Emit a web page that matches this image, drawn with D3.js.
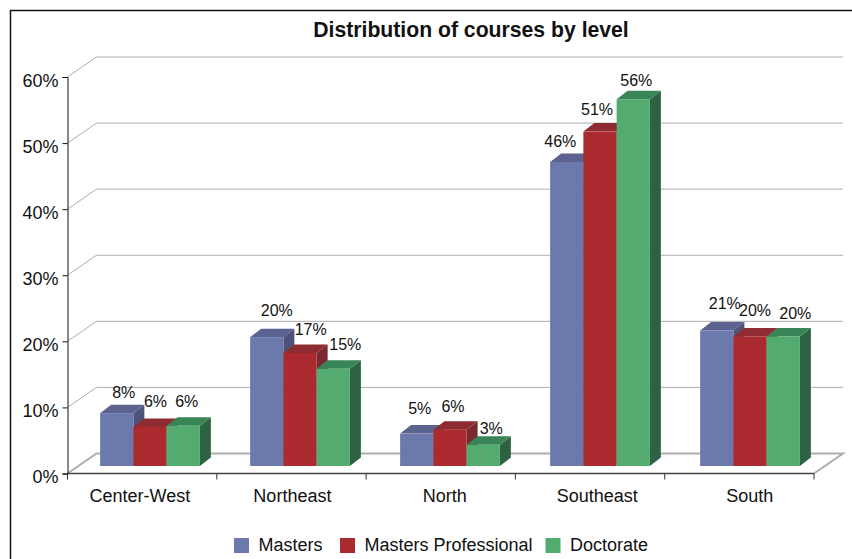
<!DOCTYPE html>
<html>
<head>
<meta charset="utf-8">
<script src="https://cdn.jsdelivr.net/npm/d3@7"></script>
<style>
  html, body { margin: 0; padding: 0; background: #fff; }
  svg { display: block; }
  text { font-family: "Liberation Sans", Arial, sans-serif; fill: #111; }
</style>
</head>
<body>
<svg id="chart" width="852" height="559"></svg>
<script>
//values
var categories = ["Center-West", "Northeast", "North", "Southeast", "South"];
var seriesNames = ["Masters", "Masters Professional", "Doctorate"];
var masters = [8.0, 19.5, 4.9, 46.0, 20.5];
var mastersProfessional = [5.9, 17.1, 5.5, 50.6, 19.6];
var doctorate = [6.1, 14.7, 3.2, 55.5, 19.6];
var mastersLabels = ["8%", "20%", "5%", "46%", "21%"];
var mastersProfessionalLabels = ["6%", "17%", "6%", "51%", "20%"];
var doctorateLabels = ["6%", "15%", "3%", "56%", "20%"];
var yTicks = [0, 10, 20, 30, 40, 50, 60];

//colors for each series: front, top and side of the bar
var fronts = ["#6c79ad", "#ab2a30", "#53ab6f"];
var tops = ["#5c628f", "#8e2c32", "#3a8558"];
var sides = ["#4c5278", "#7a2a2e", "#2d6342"];

//hand nudges for the data labels, the original places them unevenly
var labelNudgeX = [[7, 10, 3, -6.5, 8], [5.5, 10.7, 3, -3, 5], [3.5, 12, 8, 3, 12]];
var labelNudgeY = [[-15, -21, -20, -15, -22], [-20, -17.5, -18, -17, -20], [-19, -19, -10.5, -13, -17]];

var svg = d3.select("#chart");

//plot area
var plot_left = 67.5, plot_right = 814, plot_bottom = 473.5, plot_top = 77;
//offset of the back wall and of the bars
var wall_dx = 29, wall_dy = -20;
var bar_base_dy = -7.5;
var depth_dx = 11, depth_dy = -8.5;

//scales
var y = d3.scaleLinear().domain([0, 60]).range([plot_bottom, plot_top]);
var x_tick = d3.scaleBand().domain(categories).range([plot_left, plot_right]);
//category names drift a bit wider than the ticks
var x_label = d3.scaleBand().domain(categories).range([63.7, 826]);
//bar groups are spaced a little wider as well
var x_group = d3.scaleBand().domain(categories).range([75, 825]).paddingInner(0.335).paddingOuter(0.1675);
var x_bar = d3.scaleBand().domain(seriesNames).range([0, x_group.bandwidth()]);

//outer frame, runs off the page to the right and bottom
svg.append("path")
    .attr("d", "M10.5,570V10.5H860")
    .attr("fill", "none")
    .attr("stroke", "#111")
    .attr("stroke-width", 1.5);

//title
svg.append("text")
    .attr("x", 471)
    .attr("y", 37)
    .attr("text-anchor", "middle")
    .attr("font-size", 21.2)
    .attr("font-weight", "bold")
    .text("Distribution of courses by level");

//back wall grid lines with the diagonal down to the axis
svg.append("g").selectAll("path")
    .data(yTicks)
    .enter().append("path")
    .attr("d", function(d) {
        return "M" + plot_left + "," + y(d) +
            "L" + (plot_left + wall_dx) + "," + (y(d) + wall_dy) +
            "H" + (plot_right + wall_dx) +
            (d === 0 ? "L" + plot_right + "," + plot_bottom : "");
    })
    .attr("fill", "none")
    .attr("stroke", "#adadad")
    .attr("stroke-width", function(d) { return d === 0 ? 2 : 1; });

//y axis
var y_axis = svg.append("g")
    .attr("transform", "translate(" + plot_left + ",0)")
    .call(d3.axisLeft(y).tickValues(yTicks).tickSize(5).tickPadding(4).tickFormat(function(d) { return d + "%"; }));
y_axis.select(".domain").attr("stroke", "#111");
y_axis.selectAll("line").attr("stroke", "#111");
y_axis.selectAll("text")
    .attr("font-family", null)
    .attr("font-size", 18)
    .attr("dy", "0.5em");

//x axis line and ticks between the categories
svg.append("line")
    .attr("x1", plot_left)
    .attr("x2", plot_right)
    .attr("y1", plot_bottom)
    .attr("y2", plot_bottom)
    .attr("stroke", "#444")
    .attr("stroke-width", 1.6);

var boundaries = categories.map(function(c) { return x_tick(c); }).concat([plot_right]);
svg.append("g").selectAll("line")
    .data(boundaries)
    .enter().append("line")
    .attr("x1", function(d) { return d; })
    .attr("x2", function(d) { return d; })
    .attr("y1", plot_bottom)
    .attr("y2", plot_bottom + 6)
    .attr("stroke", "#333");

//category names
var x_axis = svg.append("g")
    .attr("transform", "translate(0," + plot_bottom + ")")
    .call(d3.axisBottom(x_label).tickSize(0).tickPadding(16));
x_axis.select(".domain").remove();
x_axis.selectAll("text")
    .attr("font-family", null)
    .attr("font-size", 18);

//bars, one series after the other so that the later ones cover the earlier
var seriesValues = [masters, mastersProfessional, doctorate];
var seriesLabels = [mastersLabels, mastersProfessionalLabels, doctorateLabels];
var base_y = plot_bottom + bar_base_dy;

seriesNames.forEach(function(name, s) {
    var g = svg.append("g").attr("class", "series");
    var w = x_bar.bandwidth();
    var rows = categories.map(function(c, i) {
        return {x: x_group(c) + x_bar(name), top: y(seriesValues[s][i]) + bar_base_dy};
    });

    //side
    g.selectAll(".side")
        .data(rows)
        .enter().append("path")
        .attr("class", "side")
        .attr("fill", sides[s])
        .attr("d", function(d) {
            return "M" + (d.x + w) + "," + d.top +
                "l" + depth_dx + "," + depth_dy +
                "V" + (base_y + depth_dy) +
                "L" + (d.x + w) + "," + base_y + "Z";
        });

    //top
    g.selectAll(".top")
        .data(rows)
        .enter().append("path")
        .attr("class", "top")
        .attr("fill", tops[s])
        .attr("d", function(d) {
            return "M" + d.x + "," + d.top +
                "l" + depth_dx + "," + depth_dy +
                "h" + w +
                "l" + (-depth_dx) + "," + (-depth_dy) + "Z";
        });

    //front
    g.selectAll(".front")
        .data(rows)
        .enter().append("rect")
        .attr("class", "front")
        .attr("fill", fronts[s])
        .attr("x", function(d) { return d.x; })
        .attr("y", function(d) { return d.top; })
        .attr("width", w)
        .attr("height", function(d) { return base_y - d.top; });
});

//data labels go on top of every bar
seriesNames.forEach(function(name, s) {
    svg.append("g").selectAll("text")
        .data(categories)
        .enter().append("text")
        .attr("x", function(c, i) { return x_group(c) + x_bar(name) + x_bar.bandwidth() / 2 + labelNudgeX[s][i]; })
        .attr("y", function(c, i) { return y(seriesValues[s][i]) + bar_base_dy + labelNudgeY[s][i]; })
        .attr("text-anchor", "middle")
        .attr("font-size", 16)
        .text(function(c, i) { return seriesLabels[s][i]; });
});

//legend
var legend_x = [234, 340, 545.5];
var legend = svg.append("g").selectAll("g")
    .data(seriesNames)
    .enter().append("g")
    .attr("transform", function(d, i) { return "translate(" + legend_x[i] + ",538)"; });
legend.append("rect")
    .attr("width", 15)
    .attr("height", 15)
    .attr("fill", function(d, i) { return fronts[i]; });
legend.append("text")
    .attr("x", 24.5)
    .attr("y", 12.6)
    .attr("font-size", 18)
    .text(function(d) { return d; });
</script>
</body>
</html>
